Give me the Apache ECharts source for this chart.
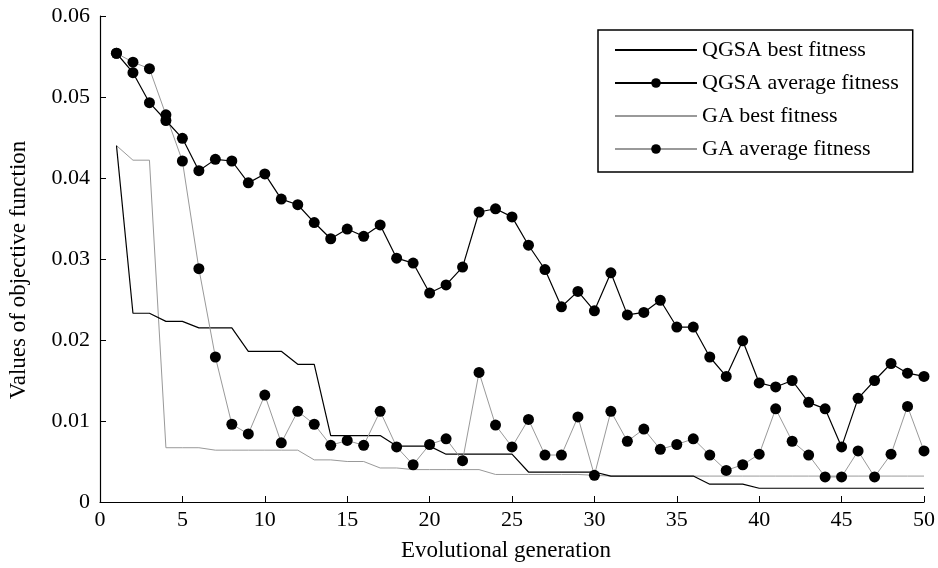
<!DOCTYPE html>
<html>
<head>
<meta charset="utf-8">
<script src="https://cdn.jsdelivr.net/npm/echarts/dist/echarts.min.js"></script>
<style>
html,body{margin:0;padding:0;background:#fff;}
#chart{width:938px;height:568px;}
</style>
</head>
<body>
<div id="chart"></div>
<script>
// ---- data ----
const generations = [1,2,3,4,5,6,7,8,9,10,11,12,13,14,15,16,17,18,19,20,21,22,23,24,25,26,27,28,29,30,31,32,33,34,35,36,37,38,39,40,41,42,43,44,45,46,47,48,49,50];

const qgsaBest = [0.0440,0.0233,0.0233,0.0223,0.0223,0.0215,0.0215,0.0215,0.0186,0.0186,
                  0.0186,0.0170,0.0170,0.0082,0.0082,0.0082,0.0082,0.0069,0.0069,0.0069,
                  0.0059,0.0059,0.0059,0.0059,0.0059,0.0037,0.0037,0.0037,0.0037,0.0037,
                  0.0032,0.0032,0.0032,0.0032,0.0032,0.0032,0.0022,0.0022,0.0022,0.0017,
                  0.0017,0.0017,0.0017,0.0017,0.0017,0.0017,0.0017,0.0017,0.0017,0.0017];

const qgsaAvg = [0.0554,0.0530,0.0493,0.0471,0.0449,0.0409,0.0423,0.0421,0.0394,0.0405,
                 0.0374,0.0367,0.0345,0.0325,0.0337,0.0328,0.0342,0.0301,0.0295,0.0258,
                 0.0268,0.0290,0.0358,0.0362,0.0352,0.0317,0.0287,0.0241,0.0260,0.0236,
                 0.0283,0.0231,0.0234,0.0249,0.0216,0.0216,0.0179,0.0155,0.0199,0.0147,
                 0.0142,0.0150,0.0123,0.0115,0.0068,0.0128,0.0150,0.0171,0.0159,0.0155];

const gaBest = [0.0440,0.0422,0.0422,0.0067,0.0067,0.0067,0.0064,0.0064,0.0064,0.0064,
                0.0064,0.0064,0.0052,0.0052,0.0050,0.0050,0.0042,0.0042,0.0040,0.0040,
                0.0040,0.0040,0.0040,0.0034,0.0034,0.0034,0.0034,0.0034,0.0034,0.0033,
                0.0032,0.0032,0.0032,0.0032,0.0032,0.0032,0.0032,0.0032,0.0032,0.0032,
                0.0032,0.0032,0.0032,0.0032,0.0032,0.0032,0.0032,0.0032,0.0032,0.0032];

const gaAvg = [0.0554,0.0543,0.0535,0.0478,0.0421,0.0288,0.0179,0.0096,0.0084,0.0132,
               0.0073,0.0112,0.0096,0.0070,0.0076,0.0070,0.0112,0.0068,0.0046,0.0071,
               0.0078,0.0051,0.0160,0.0095,0.0068,0.0102,0.0058,0.0058,0.0105,0.0033,
               0.0112,0.0075,0.0090,0.0065,0.0071,0.0078,0.0058,0.0039,0.0046,0.0059,
               0.0115,0.0075,0.0058,0.0031,0.0031,0.0063,0.0031,0.0059,0.0118,0.0063];

const seriesNames = ['QGSA best fitness','QGSA average fitness','GA best fitness','GA average fitness'];
const xTitle = 'Evolutional generation';
const yTitle = 'Values of objective function';

// ---- chart ----
const FONT = '"Liberation Serif", "Times New Roman", serif';
const pairs = arr => generations.map((g, i) => [g, arr[i]]);

const chart = echarts.init(document.getElementById('chart'), null, {renderer: 'canvas'});

const axisCommon = {
  axisLine: {show: true, lineStyle: {color: '#000', width: 1.2}},
  axisTick: {show: true, inside: true, length: 6, lineStyle: {color: '#000', width: 1}},
  splitLine: {show: false},
  nameLocation: 'middle'
};

chart.setOption({
  animation: false,
  backgroundColor: '#fff',
  grid: {left: 100, right: 14, top: 16, bottom: 66, containLabel: false, outerBoundsMode: 'none'},
  xAxis: Object.assign({}, axisCommon, {
    type: 'value', min: 0, max: 50, interval: 5,
    name: xTitle, nameGap: 37,
    nameTextStyle: {fontFamily: FONT, fontSize: 23, color: '#000', padding: [0, 12, 0, 0]},
    axisLabel: {fontFamily: FONT, fontSize: 22, color: '#000', margin: 7}
  }),
  yAxis: Object.assign({}, axisCommon, {
    type: 'value', min: 0, max: 0.06, interval: 0.01,
    name: yTitle, nameGap: 70,
    nameTextStyle: {fontFamily: FONT, fontSize: 23, color: '#000', padding: [0, 22, 0, 0]},
    axisLabel: {fontFamily: FONT, fontSize: 22, color: '#000', margin: 10}
  }),
  legend: {
    orient: 'vertical', left: 598, top: 30,
    padding: [9, 14, 12, 16],
    itemWidth: 82, itemHeight: 12, itemGap: 11,
    borderColor: '#000', borderWidth: 1.5, borderRadius: 0,
    backgroundColor: '#fff',
    textStyle: {fontFamily: FONT, fontSize: 22, color: '#000'},
    data: [
      {name: seriesNames[0], itemStyle: {opacity: 0}},
      {name: seriesNames[1]},
      {name: seriesNames[2], itemStyle: {opacity: 0}},
      {name: seriesNames[3]}
    ]
  },
  series: [
    {name: seriesNames[0], type: 'line', data: pairs(qgsaBest), symbol: 'none',
     lineStyle: {color: '#000', width: 1.2}, itemStyle: {color: '#000'}, z: 3},
    {name: seriesNames[2], type: 'line', data: pairs(gaBest), symbol: 'none',
     lineStyle: {color: '#999', width: 1}, itemStyle: {color: '#999'}, z: 2},
    {name: seriesNames[3], type: 'line', data: pairs(gaAvg), symbol: 'circle', symbolSize: 11, showSymbol: true,
     lineStyle: {color: '#999', width: 1}, itemStyle: {color: '#000'}, z: 4},
    {name: seriesNames[1], type: 'line', data: pairs(qgsaAvg), symbol: 'circle', symbolSize: 11, showSymbol: true,
     lineStyle: {color: '#000', width: 1.2}, itemStyle: {color: '#000'}, z: 5}
  ]
});
</script>
</body>
</html>
